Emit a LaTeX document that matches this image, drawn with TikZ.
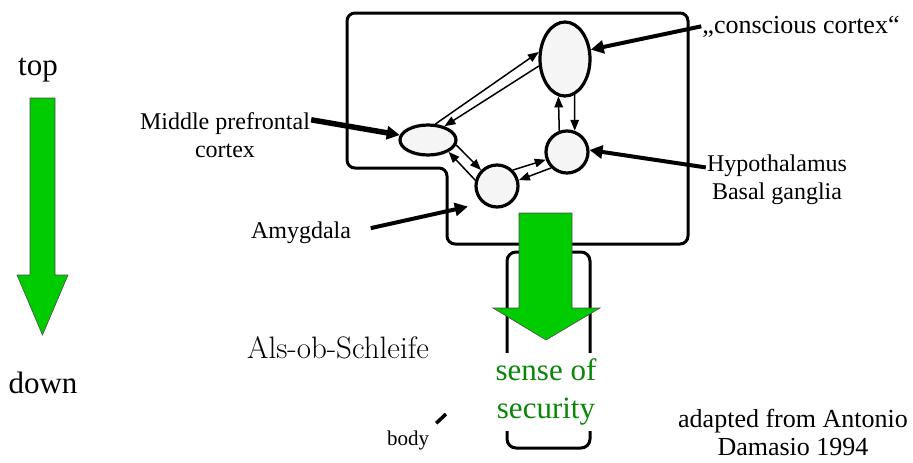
\documentclass[tikz,border=0pt]{standalone}
\usepackage{fontspec}
\setmainfont{Liberation Serif}
\usepackage{tikz}
\usetikzlibrary{calc, shapes, arrows.meta, positioning}
\definecolor{arrowgreen}{RGB}{0,204,0}
\definecolor{textgreen}{RGB}{10,135,10}
\tikzstyle{region}=[ellipse, draw=black, fill=black!4, line width=3.2pt, inner sep=0pt]
\tikzstyle{link}=[line width=1.5pt, -{Triangle[length=11pt,width=8.5pt]}]
\tikzstyle{pointer}=[line width=4pt, -{Triangle[length=13pt,width=13pt]}]
\tikzstyle{lbl}=[inner sep=1pt, font=\fontsize{24}{28}\selectfont]
\tikzstyle{bigtext}=[inner sep=1pt, font=\fontsize{31}{38}\selectfont]
\tikzstyle{bigarrow}=[fill=arrowgreen, draw=black!70, line width=0.6pt]
\begin{document}
\begin{tikzpicture}[x=1pt, y=-1pt]
\useasboundingbox (0,0) rectangle (913,463);
% brain frame and body
\draw [line width=3pt, rounded corners=8pt] (347,13) -- (688,13) -- (688,244) -- (447,244) -- (447,168) -- (347,168) -- cycle;
\draw [line width=3pt, rounded corners=9pt] (507,252) rectangle (590,448);
\node [bigtext, text=textgreen, fill=white, inner ysep=6pt, align=center] (ss) at (546,392) {sense of\\security};
% green arrows
\draw [bigarrow] (30,98) -- (55,98) -- (55,275) -- (68,275) -- (42.5,335) -- (17,275) -- (30,275) -- cycle;
\draw [bigarrow] (519,213) -- (572,213) -- (572,308) -- (600,308) -- (546,340) -- (493,308) -- (519,308) -- cycle;
\node [bigtext, anchor=base] (tp) at (38,75) {top};
\node [bigtext, anchor=base] (dn) at (43,393) {down};
% regions
\node [region, minimum width=50pt, minimum height=74pt] (cc) at (565,59) {};
\node [region, minimum width=56pt, minimum height=30pt] (pf) at (428,140) {};
\node [region, minimum size=42pt] (am) at (497,186) {};
\node [region, minimum size=42pt] (hy) at (567,152) {};
\draw [link] (pf.65) -- (cc.165);
\draw [link] (cc.195) -- (pf.40);
\draw [link] (pf.-10) -- (am.135);
\draw [link] (am.165) -- (pf.-30);
\draw [link] (am.45) -- (hy.200);
\draw [link] (hy.225) -- (am.15);
\draw [link] (hy.110) -- (cc.260);
\draw [link] (cc.285) -- (hy.70);
% labels
\node [lbl, anchor=base, font=\fontsize{26}{28}\selectfont] (ccl) at (801,33) {„conscious cortex“};
\node [lbl, align=center] (pfl) at (225,135) {Middle prefrontal\\cortex};
\node [lbl, align=center] (hyl) at (777,180) {Hypothalamus\\Basal ganglia};
\node [lbl, anchor=base] (aml) at (301,238) {Amygdala};
\draw [pointer] (ccl.west) -- (cc.20);
\draw [pointer] (hyl.170) -- (hy.5);
\draw [pointer, line width=5.5pt] (pfl.10) -- (pf.170);
\draw [pointer, shorten <=19pt, shorten >=15pt] (aml.east) -- (am.230);
\node [anchor=base, font=\fontfamily{lmr}\fontsize{31}{36}\selectfont] (alsob) at (338,358) {Als-ob-Schleife};
\node [anchor=base, inner sep=1pt, font=\fontsize{21}{24}\selectfont] (bd) at (408,445) {body};
\coordinate (bdt) at (446,414);
\draw [line width=3.5pt] ([shift={(6,-6)}]bd.north east) -- (bdt);
\node [lbl, align=center, font=\fontsize{26}{28}\selectfont] (src) at (793,432) {adapted from Antonio\\Damasio 1994};
\end{tikzpicture}
\end{document}
